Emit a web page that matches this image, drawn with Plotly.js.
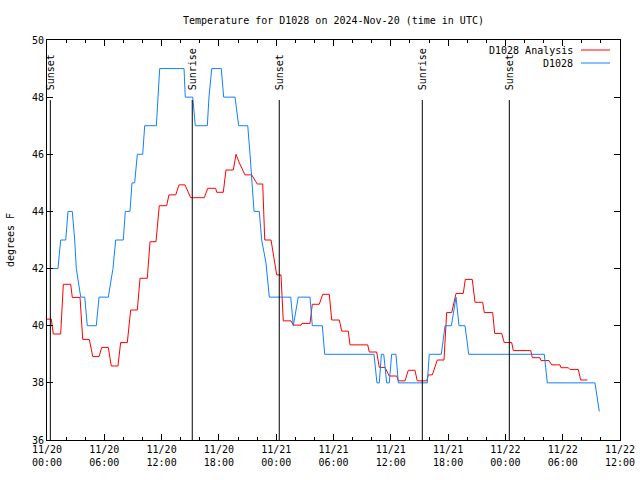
<!DOCTYPE html>
<html>
<head>
<meta charset="utf-8">
<script src="https://cdn.plot.ly/plotly-3.0.1.min.js"></script>
<style>html,body{margin:0;padding:0;background:#fff}#chart{width:640px;height:480px}</style>
</head>
<body>
<div id="chart"></div>
<script>
// Hours after 2024-11-20 00:00 UTC
const analysisHours = [0,0.45,0.66,1.43,1.71,2.48,2.65,3.46,3.74,4.43,4.79,5.45,5.73,6.42,6.73,7.43,7.71,8.41,8.76,9.46,9.74,10.50,10.79,11.41,11.76,12.53,12.77,13.48,13.82,14.45,15.05,16.47,16.83,17.66,17.77,18.46,18.74,19.51,19.79,20.14,20.73,21.43,22.02,22.59,22.80,23.46,24.05,24.50,24.74,25.55,25.79,26.60,26.70,27.54,27.78,28.51,28.87,29.56,29.81,30.61,30.86,31.55,31.73,33.58,33.75,34.52,34.80,35.39,35.84,36.62,36.79,37.49,37.83,38.53,38.77,39.76,39.93,40.35,40.87,41.57,41.85,42.38,42.83,43.59,43.80,44.53,44.82,45.62,45.79,46.67,46.88,47.61,47.88,48.66,48.83,50.65,50.82,51.62,51.73,52.57,52.85,53.72,53.82,54.59,54.76,55.63,55.88,56.58];
const analysisTemps = [40.23,40.23,39.71,39.71,41.45,41.45,40.99,40.99,39.52,39.52,38.92,38.92,39.24,39.24,38.59,38.59,39.41,39.41,40.55,40.55,41.66,41.66,42.94,42.94,44.2,44.2,44.58,44.58,44.93,44.93,44.48,44.48,44.81,44.81,44.67,44.67,45.45,45.45,46.0,45.7,45.28,45.28,44.96,44.96,43.0,43.0,41.78,41.78,40.17,40.17,40.02,40.02,40.08,40.08,40.75,40.75,41.1,41.1,40.2,40.2,39.81,39.81,39.33,39.33,39.08,39.08,38.54,38.54,38.24,38.24,38.07,38.07,38.44,38.44,38.07,38.07,38.28,38.28,38.8,38.8,40.46,40.46,41.13,41.13,41.62,41.62,40.82,40.82,40.46,40.46,39.73,39.73,39.41,39.41,39.13,39.13,38.88,38.88,38.78,38.78,38.63,38.63,38.53,38.53,38.47,38.47,38.1,38.1];

const obsHours = [0,1.15,1.43,1.96,2.20,2.65,2.90,3.07,3.53,3.95,4.22,5.16,5.45,6.42,6.91,7.19,7.99,8.20,8.69,8.90,9.18,9.46,10.02,10.23,11.45,11.80,14.35,14.48,15.26,15.53,16.79,16.96,17.25,18.25,18.50,19.69,20.07,21.02,21.26,21.68,22.23,22.48,22.93,23.28,25.52,25.79,26.31,27.54,27.78,28.83,29.08,34.24,34.55,34.80,35.01,35.26,35.57,35.84,36.09,36.54,36.79,39.82,40.03,41.29,41.68,42.34,42.83,43.14,43.77,44.16,52.07,52.39,57.38,57.83];
const obsTemps = [42,42,43,43,44,44,43,42,41,41,40,40,41,41,42,43,43,44,44,45,45,46,46,47,47,49,49,48,48,47,47,48,49,49,48,48,47,47,46,44,44,43,42.2,41,41,40,41,41,40,40,39,39,38,38,39,39,38,38,39,39,38,38,39,39,40,40,41,40,40,39,39,38,38,37];

const sunHours = [0.35,15.21,24.32,39.30,48.41];
const sunLabels = ["Sunset","Sunrise","Sunset","Sunrise","Sunset"];

const seriesNames = ["D1028 Analysis","D1028"];
const seriesColors = ["#ff0000","#1080ff"];

function toDate(h){
  const d = new Date(Date.UTC(2024,10,20) + Math.round(h*3600000));
  return d.toISOString().replace('T',' ').slice(0,19);
}

const FONT = "DejaVu Sans Mono";

const traces = [
  {x: analysisHours.map(toDate), y: analysisTemps, type:'scatter', mode:'lines', name: seriesNames[0],
   line:{color:seriesColors[0], width:1}, showlegend:false},
  {x: obsHours.map(toDate), y: obsTemps, type:'scatter', mode:'lines', name: seriesNames[1],
   line:{color:seriesColors[1], width:1}, showlegend:false}
];

const shapes = [];
const annotations = [];
sunHours.forEach((h,i)=>{
  shapes.push({type:'line', xref:'x', yref:'paper', x0:toDate(h), x1:toDate(h), y0:0, y1:0.85,
    line:{color:'black', width:1}});
  annotations.push({xref:'x', yref:'paper', x:toDate(h), y:0.87, text:sunLabels[i], textangle:-90,
    showarrow:false, xanchor:'center', yanchor:'bottom', font:{family:FONT, size:10, color:'black'}});
});
// legend (text right, sample line to its right)
seriesNames.forEach((n,i)=>{
  const yp = i===0 ? (440-50)/400 : (440-63)/400;
  annotations.push({xref:'paper', yref:'paper', x:(575-47)/573, y:yp, text:n, showarrow:false,
    xanchor:'right', yanchor:'middle', font:{family:FONT, size:10, color:'black'}});
  shapes.push({type:'line', xref:'paper', yref:'paper', x0:(581-47)/573, x1:(610-47)/573, y0:yp, y1:yp,
    line:{color:seriesColors[i], width:1}});
});

const layout = {
  width:640, height:480,
  margin:{l:47, r:20, t:40, b:40},
  paper_bgcolor:'#fff', plot_bgcolor:'#fff',
  font:{family:FONT, size:10, color:'black'},
  title:{text:'Temperature for D1028 on 2024-Nov-20 (time in UTC)', x:0.521, xanchor:'center', y:0.958, yanchor:'middle',
    font:{family:FONT, size:10, color:'black'}},
  xaxis:{type:'date', range:[toDate(0), toDate(60)], dtick:21600000, tick0:toDate(0),
    tickformat:'%m/%d<br>%H:%M', ticks:'inside', ticklen:6, tickcolor:'black',
    showline:true, linecolor:'black', linewidth:1, mirror:'allticks', showgrid:false, zeroline:false,
    minor:{dtick:7200000, ticks:'inside', ticklen:3, tickcolor:'black', showgrid:false},
    tickfont:{family:FONT, size:10, color:'black'}},
  yaxis:{range:[36,50], dtick:2, tick0:36, ticks:'inside', ticklen:6, tickcolor:'black',
    showline:true, linecolor:'black', linewidth:1, mirror:'allticks', showgrid:false, zeroline:false,
    tickfont:{family:FONT, size:10, color:'black'},
    title:{text:'degrees F', font:{family:FONT, size:10, color:'black'}, standoff:15}},
  shapes: shapes,
  annotations: annotations,
  showlegend:false
};

Plotly.newPlot('chart', traces, layout, {staticPlot:true, displayModeBar:false});
</script>
</body>
</html>
